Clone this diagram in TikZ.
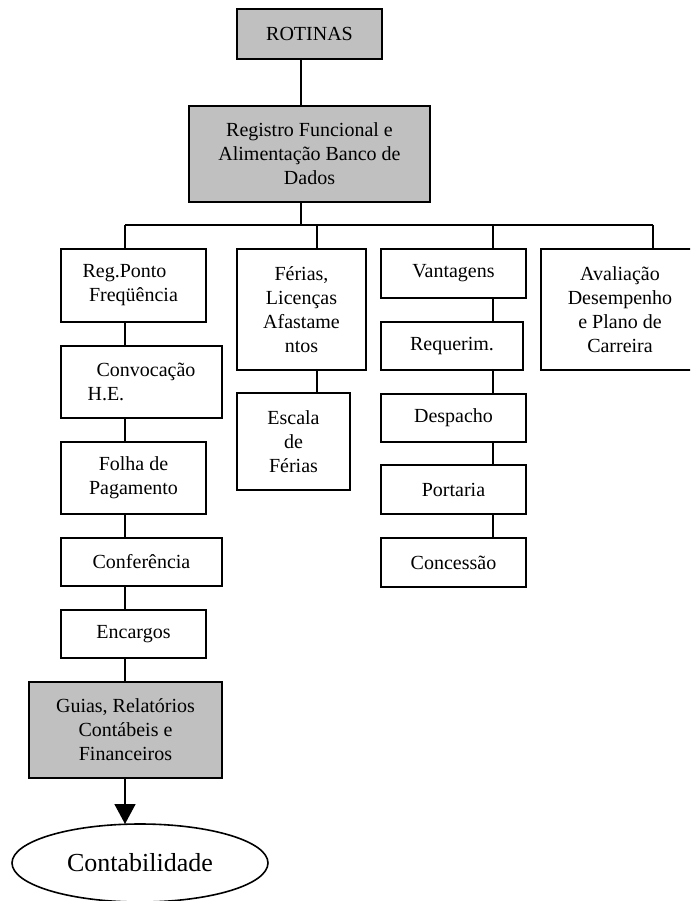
\documentclass[tikz,border=0pt]{standalone}
\usepackage{fontspec}
\setmainfont{Liberation Serif}
\usetikzlibrary{arrows.meta,shapes.geometric}
\definecolor{boxgray}{HTML}{C0C0C0}
\tikzset{
  bx/.style={draw=black, line width=1.6pt, inner sep=0pt, outer sep=0pt, align=center,
    font=\fontsize{20}{24}\selectfont, text=black},
  gbx/.style={bx, fill=boxgray},
  conn/.style={draw=black, line width=1.6pt},
}
\begin{document}
\begin{tikzpicture}[x=1pt,y=-1pt]
\useasboundingbox (0,0) rectangle (690,901);
\clip (0,0) rectangle (690,901);
% top
\node[gbx, minimum width=145pt, minimum height=50pt] (rot) at (309.5,34) {ROTINAS};
\node[gbx, minimum width=241pt, minimum height=96pt] (reg) at (309.5,154) {Registro Funcional e\\Alimentação Banco de\\Dados};
% column 1
\node[bx, minimum width=145pt, minimum height=73pt] (rp) at (133.5,285.5) {Reg.Ponto\hspace*{18pt}\\Freqüência};
\node[bx, minimum width=161pt, minimum height=72pt, align=left] (cv) at (141.5,382) {\hspace*{9pt}Convocação\\H.E.\hspace*{0pt}};
\node[bx, minimum width=145pt, minimum height=72pt] (fp) at (133.5,478) {Folha de\\Pagamento};
\node[bx, minimum width=161pt, minimum height=48pt] (cf) at (141.5,562) {Conferência};
\node[bx, minimum width=145pt, minimum height=48pt] (en) at (133.5,634) {Encargos};
\node[gbx, minimum width=193pt, minimum height=96pt] (gu) at (125.5,730) {Guias, Relatórios\\Contábeis e\\Financeiros};
\node[draw=black, line width=1.6pt, ellipse, inner sep=0pt, outer sep=0pt, minimum width=256pt, minimum height=78pt, font=\fontsize{26}{30}\selectfont] (ct) at (140,863) {Contabilidade};
% column 2
\node[bx, minimum width=129pt, minimum height=121pt] (fe) at (301.5,309.5) {Férias,\\Licenças\\Afastame\\ntos};
\node[bx, minimum width=113pt, minimum height=97pt] (es) at (293.5,441.5) {Escala\\de\\Férias};
% column 3
\node[bx, minimum width=145pt, minimum height=49pt] (va) at (453.5,273.5) {Vantagens};
\node[bx, minimum width=142pt, minimum height=48pt] (rq) at (452,346) {Requerim.};
\node[bx, minimum width=145pt, minimum height=48pt] (dp) at (453.5,418) {Despacho};
\node[bx, minimum width=145pt, minimum height=49pt] (po) at (453.5,489.5) {Portaria};
\node[bx, minimum width=145pt, minimum height=49pt] (cc) at (453.5,562.5) {Concessão};
% column 4
\node[bx, minimum width=158pt, minimum height=121pt] (av) at (620,309.5) {Avaliação\\Desempenho\\e Plano de\\Carreira};
% bus coordinates
\coordinate (j0) at (301,225);
\coordinate (b1) at (125,225);
\coordinate (b2) at (317,225);
\coordinate (b3) at (493,225);
\coordinate (b4) at (653,225);
% connectors
\draw[conn] (rot.south -| j0) -- (reg.north -| j0);
\draw[conn] (reg.south -| j0) -- (j0);
\draw[conn] (b1) -- (b4);
\draw[conn] (b1) -- (rp.north -| b1);
\draw[conn] (b2) -- (fe.north -| b2);
\draw[conn] (b3) -- (va.north -| b3);
\draw[conn] (b4) -- (av.north -| b4);
\draw[conn] (rp.south -| b1) -- (cv.north -| b1);
\draw[conn] (cv.south -| b1) -- (fp.north -| b1);
\draw[conn] (fp.south -| b1) -- (cf.north -| b1);
\draw[conn] (cf.south -| b1) -- (en.north -| b1);
\draw[conn] (en.south -| b1) -- (gu.north -| b1);
\draw[conn, -{Triangle[length=20pt,width=21pt]}] (gu.south -| b1) -- (ct.north -| b1);
\draw[conn] (fe.south -| b2) -- (es.north -| b2);
\draw[conn] (va.south -| b3) -- (rq.north -| b3);
\draw[conn] (rq.south -| b3) -- (dp.north -| b3);
\draw[conn] (dp.south -| b3) -- (po.north -| b3);
\draw[conn] (po.south -| b3) -- (cc.north -| b3);
\end{tikzpicture}
\end{document}
